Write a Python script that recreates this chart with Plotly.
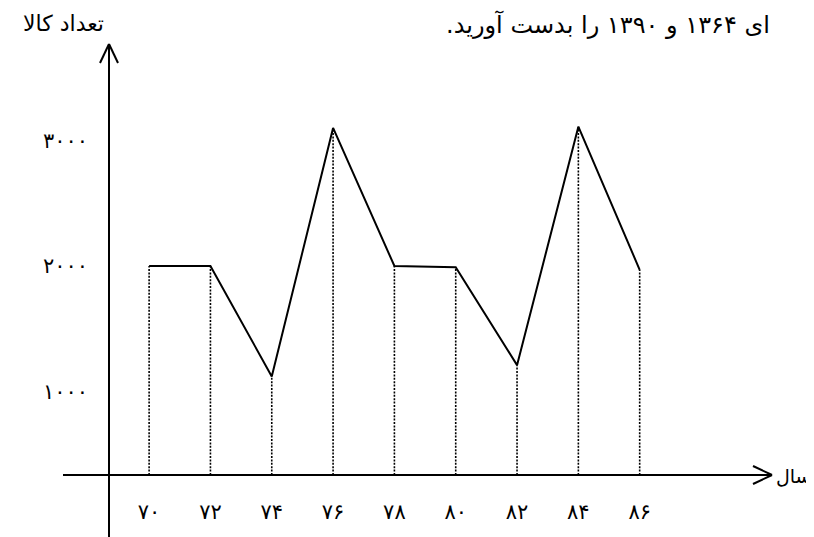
import plotly.graph_objects as go

# ---- data ----
years = [70, 72, 74, 76, 78, 80, 82, 84, 86]
year_labels = ["۷۰", "۷۲", "۷۴", "۷۶", "۷۸", "۸۰", "۸۲", "۸۴", "۸۶"]
goods_count = [2000, 2000, 1120, 3100, 2000, 1990, 1210, 3110, 1970]
y_tick_values = [1000, 2000, 3000]
y_tick_labels = ["۱۰۰۰", "۲۰۰۰", "۳۰۰۰"]
y_title = "تعداد کالا"
x_title = "سال"
top_text = "ای ۱۳۶۴ و ۱۳۹۰ را بدست آورید."

# ---- layout geometry (pixels) ----
W, H = 814, 537
L, R, T, B = 101, 764, 36, 467          # y-axis x, x-axis tip, y-axis tip, x-axis y
px_per_unit = 0.1255                   # vertical scale
y2000_px = 258
x78_px, px_per_year = 386.4, 30.66

y_top = 2000 + (y2000_px - T) / px_per_unit
y_bot = 2000 - (B - y2000_px) / px_per_unit
x_left = 78 - (x78_px - L) / px_per_year
x_right = 78 + (R - x78_px) / px_per_year


def px(xp):
    return (xp - L) / (R - L)


def py(yp):
    return (B - yp) / (B - T)


FONT = "DejaVu Sans, Noto Sans, sans-serif"
RLM = "\u200f"

fig = go.Figure()

# dotted drop lines
dx, dy = [], []
for xv, yv in zip(years, goods_count):
    dx += [xv, xv, None]
    dy += [y_bot, yv, None]
fig.add_trace(go.Scatter(x=dx, y=dy, mode="lines",
                         line=dict(color="black", width=1.6, dash="2px,1.4px"),
                         hoverinfo="skip", showlegend=False))

# main line
fig.add_trace(go.Scatter(x=years, y=goods_count, mode="lines",
                         line=dict(color="black", width=2),
                         showlegend=False))

line_style = dict(color="black", width=2)
shapes = [
    # x axis
    dict(type="line", xref="paper", yref="paper", x0=px(55), x1=px(R), y0=0, y1=0, line=line_style),
    dict(type="line", xref="paper", yref="paper", x0=px(R - 19), x1=px(R), y0=py(B - 9), y1=0, line=line_style),
    dict(type="line", xref="paper", yref="paper", x0=px(R - 19), x1=px(R), y0=py(B + 9), y1=0, line=line_style),
    # y axis
    dict(type="line", xref="paper", yref="paper", x0=0, x1=0, y0=py(536), y1=1, line=line_style),
    dict(type="line", xref="paper", yref="paper", x0=px(L - 9), x1=0, y0=py(T + 19), y1=1, line=line_style),
    dict(type="line", xref="paper", yref="paper", x0=px(L + 9), x1=0, y0=py(T + 19), y1=1, line=line_style),
]

annotations = [
    dict(text=RLM + y_title + RLM, xref="paper", yref="paper", x=px(55), y=py(16), showarrow=False,
         font=dict(family=FONT, size=22, color="black"), xanchor="center", yanchor="middle"),
    dict(text=RLM + top_text + RLM, xref="paper", yref="paper", x=px(600), y=py(17), showarrow=False,
         font=dict(family=FONT, size=24, color="black"), xanchor="center", yanchor="middle"),
    dict(text=RLM + x_title + RLM, xref="paper", yref="paper", x=px(786), y=py(B + 1), showarrow=False,
         font=dict(family=FONT, size=19, color="black"), xanchor="center", yanchor="middle"),
]

fig.update_layout(
    width=W, height=H,
    margin=dict(l=L, r=W - R, t=T, b=H - B, pad=0),
    paper_bgcolor="white", plot_bgcolor="white",
    shapes=shapes, annotations=annotations,
    showlegend=False,
    xaxis=dict(range=[x_left, x_right], tickvals=years, ticktext=year_labels,
               showgrid=False, zeroline=False, showline=False, ticks="",
               ticklabelstandoff=22,
               tickfont=dict(family=FONT, size=21, color="black")),
    yaxis=dict(range=[y_bot, y_top], tickvals=y_tick_values, ticktext=y_tick_labels,
               showgrid=False, zeroline=False, showline=False, ticks="",
               ticklabelstandoff=20,
               tickfont=dict(family=FONT, size=21, color="black")),
)

fig.write_html("out.html")
